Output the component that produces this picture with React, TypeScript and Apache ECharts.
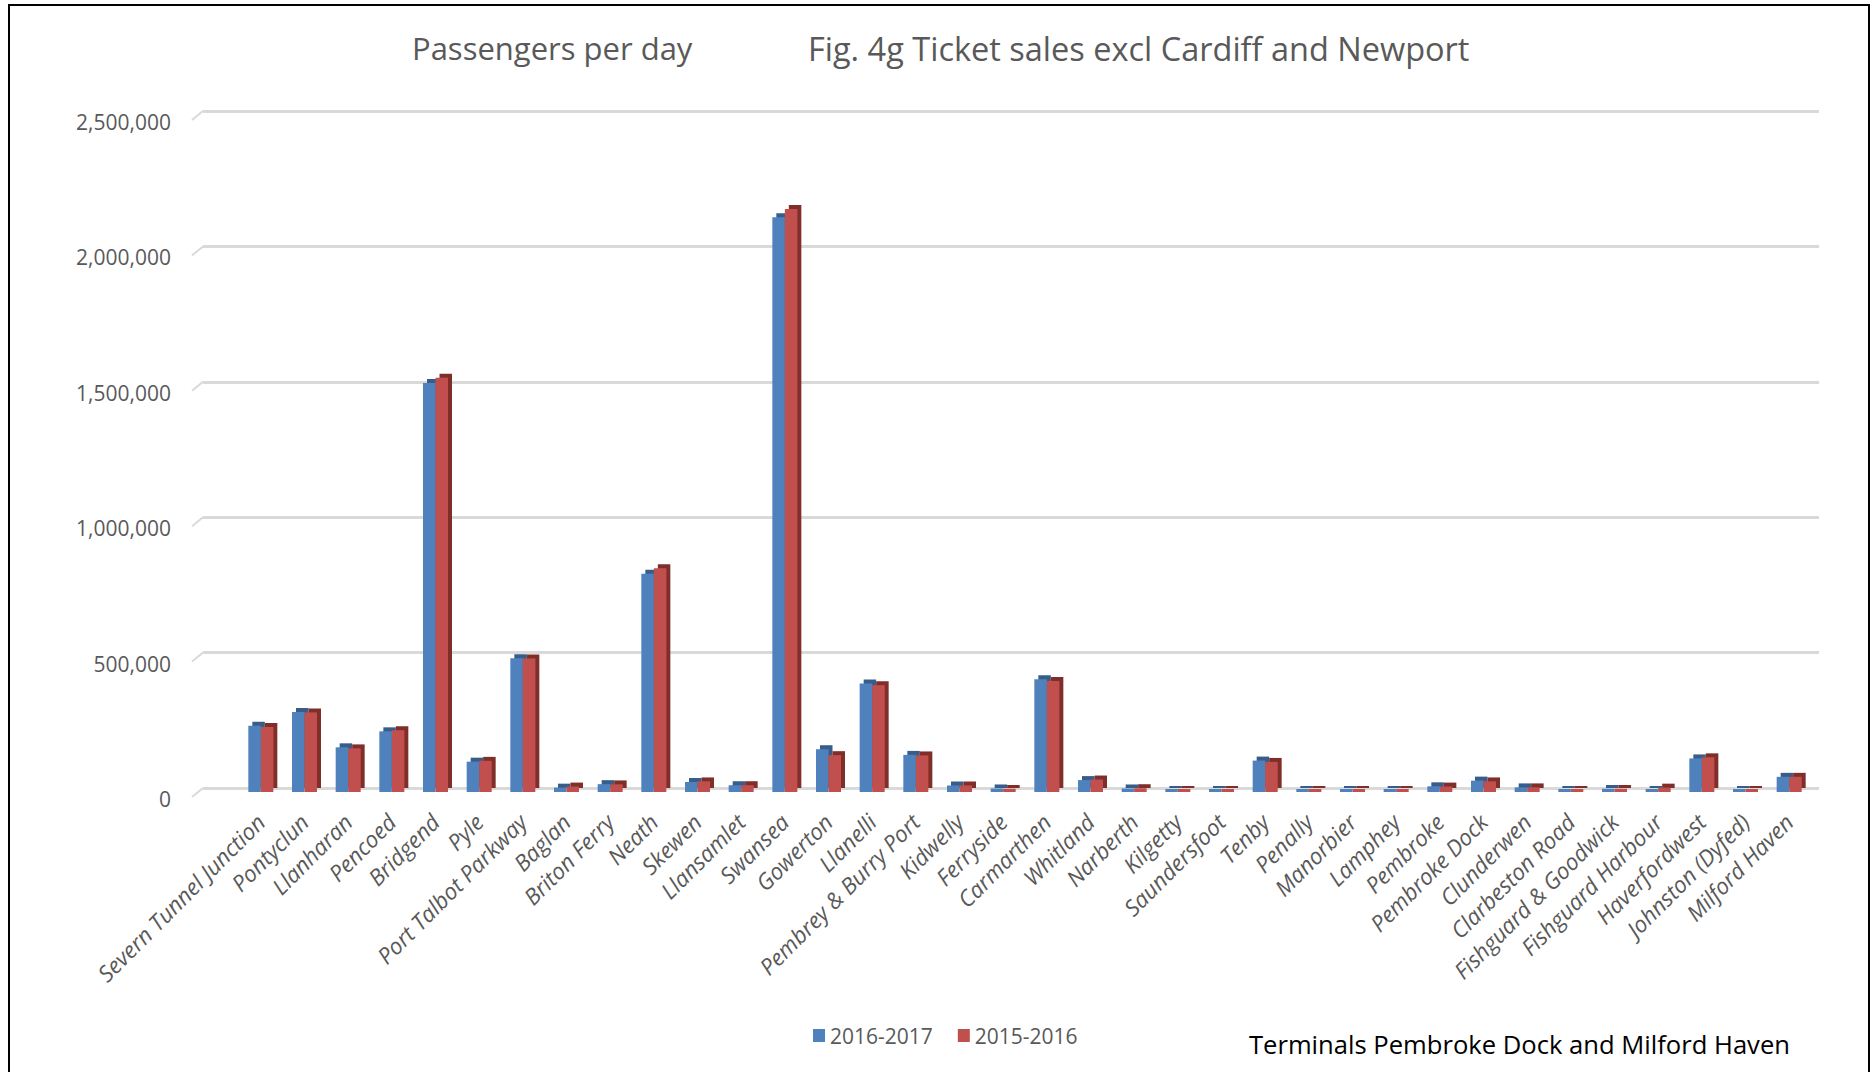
import React, { useEffect, useRef } from "react";
import * as echarts from "echarts";

const categories = [
  "Severn Tunnel Junction", "Pontyclun", "Llanharan", "Pencoed", "Bridgend", "Pyle",
  "Port Talbot Parkway", "Baglan", "Briton Ferry", "Neath", "Skewen", "Llansamlet",
  "Swansea", "Gowerton", "Llanelli", "Pembrey & Burry Port", "Kidwelly", "Ferryside",
  "Carmarthen", "Whitland", "Narberth", "Kilgetty", "Saundersfoot", "Tenby",
  "Penally", "Manorbier", "Lamphey", "Pembroke", "Pembroke Dock", "Clunderwen",
  "Clarbeston Road", "Fishguard & Goodwick", "Fishguard Harbour", "Haverfordwest",
  "Johnston (Dyfed)", "Milford Haven",
];

const series2016_2017 = [
  245000, 295000, 165000, 224000, 1510000, 112000,
  494000, 16000, 29000, 806000, 37000, 25000,
  2122000, 158000, 401000, 137000, 24000, 13000,
  416000, 44000, 13000, 9000, 3000, 116000,
  1000, 3000, 1000, 21000, 42000, 17000,
  3000, 12000, 11000, 124000, 2000, 56000,
];

const series2015_2016 = [
  240000, 294000, 161000, 228000, 1530000, 115000,
  493000, 20000, 28000, 826000, 39000, 25000,
  2153000, 136000, 394000, 135000, 24000, 12000,
  410000, 46000, 14000, 9000, 3000, 111000,
  1000, 3000, 1000, 20000, 39000, 17000,
  3000, 12000, 16000, 128000, 2000, 56000,
];

const seriesNames = ["2016-2017", "2015-2016"];
const yMin = 0;
const yMax = 2500000;
const yInterval = 500000;

const titleLeft = "Passengers per day";
const titleRight = "Fig. 4g Ticket sales excl Cardiff and Newport";
const note = "Terminals Pembroke Dock and Milford Haven";

const FONT = '"Open Sans", "Liberation Sans", sans-serif';

export default function App() {
  const ref = useRef<HTMLDivElement>(null);

  useEffect(() => {
    if (!ref.current) return;
    const chart = echarts.init(ref.current, null, { renderer: "svg" });
    const fmt = (v: number) => v.toLocaleString("en-US");
    const depth = 4;
    const textGraphics = [
      {
        type: "text",
        x: 412,
        y: 48,
        style: {
          text: titleLeft,
          font: `31px ${FONT}`,
          fill: "#595959",
          align: "left",
          verticalAlign: "middle",
        },
      },
      {
        type: "text",
        x: 808,
        y: 48,
        style: {
          text: titleRight,
          font: `32.5px ${FONT}`,
          fill: "#595959",
          align: "left",
          verticalAlign: "middle",
        },
      },
      {
        type: "text",
        x: 1249,
        y: 1044,
        style: {
          text: note,
          font: `25.6px ${FONT}`,
          fill: "#000000",
          align: "left",
          verticalAlign: "middle",
        },
      },
    ];
    chart.setOption({
      animation: false,
      backgroundColor: "#ffffff",
      textStyle: { fontFamily: FONT },
      grid: [
        { left: 239, top: 111 + depth, width: 1572, height: 677 },
        { left: 203, top: 111, width: 1616, height: 677 },
      ],
      xAxis: [
        {
          type: "category",
          gridIndex: 0,
          data: categories,
          axisLine: { show: false },
          axisTick: { show: false },
          splitLine: { show: false },
          axisLabel: {
            interval: 0,
            rotate: 45,
            margin: 26,
            fontSize: 22.5,
            fontStyle: "italic",
            fontFamily: FONT,
            color: "#595959",
          },
        },
        { type: "value", gridIndex: 1, min: 0, max: 1, show: false },
      ],
      yAxis: [
        { type: "value", gridIndex: 0, min: yMin, max: yMax, interval: yInterval, show: false },
        {
          type: "value",
          gridIndex: 1,
          min: yMin,
          max: yMax,
          interval: yInterval,
          axisLine: { show: false },
          axisTick: { show: false },
          splitLine: { show: true, lineStyle: { color: "#D9D9D9", width: 3 } },
          axisLabel: {
            margin: 32,
            fontSize: 21,
            lineHeight: 22,
            fontFamily: FONT,
            color: "#595959",
            formatter: fmt,
            verticalAlign: "top",
          },
        },
      ],
      legend: {
        data: seriesNames,
        left: 808,
        top: 1020,
        icon: "rect",
        itemWidth: 12,
        itemHeight: 13,
        itemGap: 25,
        textStyle: { fontSize: 21, fontFamily: FONT, color: "#595959" },
        itemStyle: { shadowBlur: 0, shadowOffsetX: 0, shadowOffsetY: 0, shadowColor: "rgba(0,0,0,0)" },
      },
      series: [
        {
          name: seriesNames[0],
          type: "bar",
          xAxisIndex: 0,
          yAxisIndex: 0,
          data: series2016_2017,
          barWidth: 12.5,
          barGap: "0%",
          barMinHeight: 3,
          itemStyle: {
            color: "#4F81BD",
            shadowColor: "#385D8A",
            shadowBlur: 0,
            shadowOffsetX: depth,
            shadowOffsetY: -depth,
          },
        },
        {
          name: seriesNames[1],
          type: "bar",
          xAxisIndex: 0,
          yAxisIndex: 0,
          data: series2015_2016,
          barWidth: 12.5,
          barGap: "0%",
          barMinHeight: 3,
          itemStyle: {
            color: "#C0504D",
            shadowColor: "#7F2D2B",
            shadowBlur: 0,
            shadowOffsetX: depth,
            shadowOffsetY: -depth,
          },
        },
      ],
      graphic: textGraphics,
    });

    // small slanted "floor" segments at the left end of each gridline (3D look)
    const slants: any[] = [];
    for (let v = yMin; v <= yMax; v += yInterval) {
      const y = chart.convertToPixel({ yAxisIndex: 1 }, v) as number;
      slants.push({
        type: "line",
        shape: { x1: 192, y1: y + 9, x2: 203, y2: y },
        style: { stroke: "#D9D9D9", lineWidth: 2 },
        silent: true,
      });
    }
    chart.setOption({ graphic: [...textGraphics, ...slants] });

    return () => chart.dispose();
  }, []);

  return (
    <div
      style={{
        position: "fixed",
        left: 0,
        top: 0,
        width: 1872,
        height: 1072,
        overflow: "hidden",
        background: "#ffffff",
      }}
    >
      <div ref={ref} style={{ position: "absolute", left: 0, top: 0, width: 1872, height: 1072 }} />
      <div
        style={{
          position: "absolute",
          left: 8,
          top: 4,
          width: 1862,
          height: 1200,
          border: "2px solid #000",
          boxSizing: "border-box",
          pointerEvents: "none",
        }}
      />
    </div>
  );
}
